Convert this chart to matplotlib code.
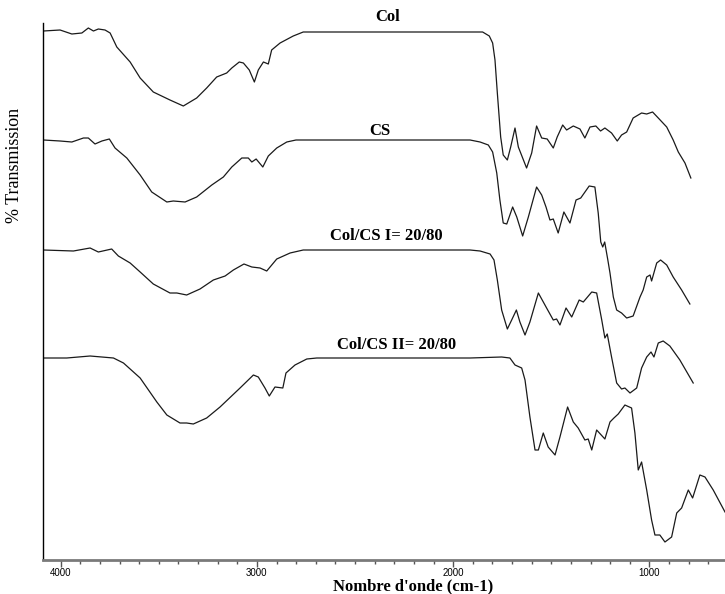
import matplotlib.pyplot as plt
from matplotlib.ticker import MultipleLocator

# FTIR spectra, wavenumber (cm-1) vs transmission (arbitrary units, stacked)
col_wn = [4088, 4003, 3943, 3892, 3859, 3833, 3808, 3774, 3748, 3714, 3646, 3595,
          3528, 3443, 3375, 3307, 3256, 3205, 3154, 3128, 3090, 3069, 3039, 3013,
          2993, 2967, 2942, 2925, 2882, 2815, 2764, 2577, 1850, 1816, 1799, 1787,
          1775, 1758, 1745, 1724, 1707, 1685, 1668, 1626, 1600, 1575, 1549, 1521,
          1490, 1470, 1442, 1422, 1388, 1354, 1329, 1303, 1273, 1249, 1227, 1193,
          1164, 1142, 1116, 1083, 1040, 1014, 984, 955, 912, 879, 853, 819, 789]
col_t = [529, 530, 526, 527, 532, 529, 531, 530, 527, 513, 498, 482,
         468, 460, 454, 462, 472, 483, 487, 492, 498, 497, 490, 478,
         490, 498, 496, 510, 517, 524, 528, 528, 528, 524, 517, 500,
         467, 423, 405, 400, 413, 432, 413, 392, 407, 434, 422, 421,
         412, 423, 435, 430, 434, 431, 422, 433, 434, 429, 432, 427,
         419, 425, 428, 442, 447, 446, 448, 442, 433, 420, 408, 397, 382]

cs_wn = [4088, 4003, 3943, 3884, 3859, 3825, 3790, 3752, 3723, 3663, 3595, 3536,
         3459, 3426, 3366, 3307, 3230, 3171, 3128, 3077, 3044, 3026, 3004, 2970,
         2942, 2899, 2848, 2801, 2577, 1914, 1863, 1821, 1799, 1778, 1762, 1745,
         1727, 1697, 1676, 1646, 1617, 1575, 1549, 1527, 1507, 1490, 1465, 1436,
         1405, 1374, 1350, 1307, 1278, 1261, 1248, 1238, 1228, 1212, 1201, 1184,
         1167, 1142, 1116, 1083, 1048, 1032, 1014, 997, 989, 963, 943, 912, 879,
         836, 794]
cs_t = [420, 419, 418, 422, 422, 416, 419, 421, 412, 402, 385, 368,
        358, 359, 358, 363, 375, 383, 393, 402, 402, 398, 401, 393,
        404, 412, 418, 420, 420, 420, 418, 415, 408, 387, 360, 337,
        336, 353, 343, 324, 343, 373, 365, 353, 340, 341, 327, 348,
        337, 360, 362, 374, 373, 347, 318, 313, 318, 300, 287, 263,
        250, 247, 242, 244, 263, 270, 283, 285, 279, 297, 300, 295, 283,
        270, 256]

c1_wn = [4088, 3935, 3850, 3808, 3740, 3706, 3646, 3595, 3528, 3443, 3408, 3358,
         3290, 3222, 3162, 3120, 3066, 3026, 2984, 2950, 2899, 2831, 2764, 2577,
         1914, 1863, 1812, 1792, 1775, 1753, 1724, 1702, 1678, 1660, 1634, 1609,
         1566, 1524, 1490, 1473, 1456, 1425, 1396, 1358, 1337, 1294, 1269, 1243,
         1227, 1215, 1193, 1167, 1142, 1125, 1099, 1065, 1040, 1014, 992, 977,
         955, 930, 896, 845, 777]
c1_t = [310, 309, 312, 308, 311, 304, 297, 288, 276, 267, 267, 265,
        271, 280, 284, 290, 296, 293, 292, 289, 301, 307, 310, 310,
        310, 309, 306, 300, 280, 250, 231, 240, 250, 238, 225, 238,
        267, 252, 240, 241, 235, 252, 243, 260, 258, 268, 267, 240,
        222, 226, 203, 177, 171, 172, 167, 172, 192, 203, 208, 203,
        217, 219, 214, 200, 177]

c2_wn = [4088, 3969, 3850, 3731, 3680, 3595, 3510, 3459, 3392, 3358, 3324, 3256,
         3188, 3086, 3018, 2993, 2959, 2937, 2908, 2868, 2852, 2806, 2746, 2695,
         2577, 1914, 1753, 1711, 1685, 1651, 1634, 1609, 1583, 1566, 1541, 1516,
         1481, 1456, 1417, 1388, 1363, 1329, 1312, 1294, 1269, 1227, 1201, 1181,
         1159, 1125, 1091, 1074, 1057, 1040, 1014, 989, 972, 947, 921, 887,
         861, 836, 802, 780, 743, 717, 675, 615]
c2_t = [202, 202, 204, 202, 197, 182, 158, 145, 137, 137, 136, 142,
        153, 172, 185, 183, 172, 164, 173, 172, 187, 195, 201, 202,
        202, 202, 203, 202, 195, 192, 180, 143, 110, 110, 127, 113,
        105, 123, 153, 138, 132, 120, 121, 110, 130, 121, 138, 142,
        146, 155, 152, 127, 90, 98, 70, 40, 25, 25, 18, 23,
        47, 52, 70, 62, 85, 83, 70, 48]

spectra = [(col_wn, col_t), (cs_wn, cs_t), (c1_wn, c1_t), (c2_wn, c2_t)]
names = ['Col', 'CS', 'Col/CS I= 20/80', 'Col/CS II= 20/80']
# label anchors (wavenumber, height) above each trace
name_wn = [2332, 2373, 2342, 2291]
name_t = [543, 429, 324, 215]

fig = plt.figure(figsize=(7.25, 5.94), dpi=100)
ax = fig.add_axes([43 / 725, 34 / 594, 682 / 725, 537 / 594])

for (wn, t) in spectra:
    ax.plot(wn, t, color='#1a1a1a', linewidth=0.9)

for name, x, y in zip(names, name_wn, name_t):
    ax.text(x, y, name, ha='center', va='center', fontsize=12,
            family='Liberation Serif', fontweight='bold', clip_on=False)

ax.set_xlim(4090, 615)
ax.set_ylim(0, 537)

ax.spines['top'].set_visible(False)
ax.spines['right'].set_visible(False)
ax.spines['left'].set_linewidth(1.0)
ax.spines['bottom'].set_color('#7a7a7a')
ax.spines['bottom'].set_linewidth(2.0)

ax.xaxis.set_major_locator(MultipleLocator(1000))
ax.xaxis.set_minor_locator(MultipleLocator(100))
ax.tick_params(axis='x', which='major', length=5, width=1, color='#555555',
               labelsize=7, pad=1)
ax.tick_params(axis='x', which='minor', length=3, width=1, color='#555555')
for lbl in ax.get_xticklabels():
    lbl.set_family('Liberation Sans')
ax.set_yticks([])

fig.text(413 / 725, 1 - 586 / 594, "Nombre d'onde (cm-1)", ha='center',
         va='center', family='Liberation Serif', fontweight='bold', fontsize=12)
fig.text(15 / 725, 1 - 165 / 594, '% Transmission', rotation=90,
         ha='center', va='center', family='Liberation Serif', fontsize=13)

fig.savefig('out.png', dpi=100)
